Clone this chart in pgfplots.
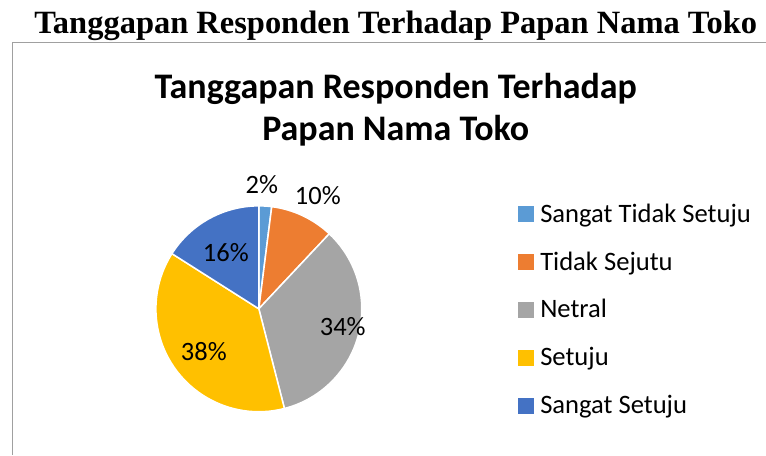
\documentclass[border=0pt]{standalone}
\usepackage{fontspec}
\setmainfont{Carlito}
\newfontfamily\hdrfont{Liberation Serif}
\usepackage{pgfplots}
\usepackage{pgfplotstable}
\pgfplotsset{compat=1.18}
\definecolor{pie0}{HTML}{5B9BD5}
\definecolor{pie1}{HTML}{ED7D31}
\definecolor{pie2}{HTML}{A5A5A5}
\definecolor{pie3}{HTML}{FFC000}
\definecolor{pie4}{HTML}{4472C4}
\definecolor{frameGray}{HTML}{A0A0A0}

% share in percent; lx/ly = label position (canvas px, y up)
\pgfplotstableread{
label value lx ly
STS   2     262 270
TS    10    318 259
N     34    343 128
S     38    204 103
SS    16    226 202
}\piedata

\begin{document}
\begin{tikzpicture}
\begin{axis}[
  width=766pt, height=455pt, scale only axis,
  xmin=0, xmax=766, ymin=0, ymax=455,
  enlargelimits=false,
  axis lines=none,
  clip=false,
  legend style={
    draw=none, fill=none,
    at={(axis cs:518,257)}, anchor=north west,
    inner xsep=0pt, inner ysep=0pt,
    row sep=17pt,
    cells={anchor=west},
    nodes={inner sep=0pt, text height=24pt, text depth=7pt},
    font=\fontsize{26.6}{30}\selectfont,
    /tikz/every odd column/.append style={column sep=7pt},
  },
]
\path (axis cs:0,0) rectangle (axis cs:766,455);
\draw[frameGray, line width=1pt] (axis cs:13,0) -- (axis cs:13,412) -- (axis cs:766,412);

\pgfplotsextra{
  \pgfplotstablegetrowsof{\piedata}
  \pgfmathtruncatemacro{\nrows}{\pgfplotsretval-1}
  \gdef\cum{0}
  \foreach \i in {0,...,\nrows}{
    \pgfplotstablegetelem{\i}{value}\of\piedata \let\val\pgfplotsretval
    \pgfmathsetmacro{\a}{90-3.6*\cum}
    \pgfmathsetmacro{\b}{90-3.6*(\cum+\val)}
    \pgfmathsetmacro{\newcum}{\cum+\val}
    \xdef\cum{\newcum}
    \fill[fill=pie\i, draw=white, line width=1.5pt]
      (axis cs:259,146) -- ++(\a:103pt) arc[start angle=\a, end angle=\b, radius=103pt] -- cycle;
  }
  \foreach \i in {0,...,\nrows}{
    \pgfplotstablegetelem{\i}{value}\of\piedata \let\val\pgfplotsretval
    \pgfplotstablegetelem{\i}{lx}\of\piedata \let\lx\pgfplotsretval
    \pgfplotstablegetelem{\i}{ly}\of\piedata \let\ly\pgfplotsretval
    \node[font=\fontsize{26.5}{30}\selectfont, inner sep=0pt] at (axis cs:\lx,\ly) {\val\%};
  }
}

\addlegendimage{legend image code/.code={\fill[pie0] (0pt,-7.5pt) rectangle (15pt,7.5pt);}}
\addlegendimage{legend image code/.code={\fill[pie1] (0pt,-7.5pt) rectangle (15pt,7.5pt);}}
\addlegendimage{legend image code/.code={\fill[pie2] (0pt,-7.5pt) rectangle (15pt,7.5pt);}}
\addlegendimage{legend image code/.code={\fill[pie3] (0pt,-7.5pt) rectangle (15pt,7.5pt);}}
\addlegendimage{legend image code/.code={\fill[pie4] (0pt,-7.5pt) rectangle (15pt,7.5pt);}}
\legend{Sangat Tidak Setuju, Tidak Sejutu, Netral, Setuju, Sangat Setuju}

\node[anchor=base, inner sep=0pt] at (axis cs:396,421)
  {\hdrfont\bfseries\fontsize{32.5}{34}\selectfont Tanggapan Responden Terhadap Papan Nama Toko};
\node[anchor=base, inner sep=0pt, align=center, font=\bfseries\fontsize{36}{42.5}\selectfont]
  at (axis cs:396,314) {Tanggapan Responden Terhadap\\Papan Nama Toko};
\end{axis}
\end{tikzpicture}
\end{document}
